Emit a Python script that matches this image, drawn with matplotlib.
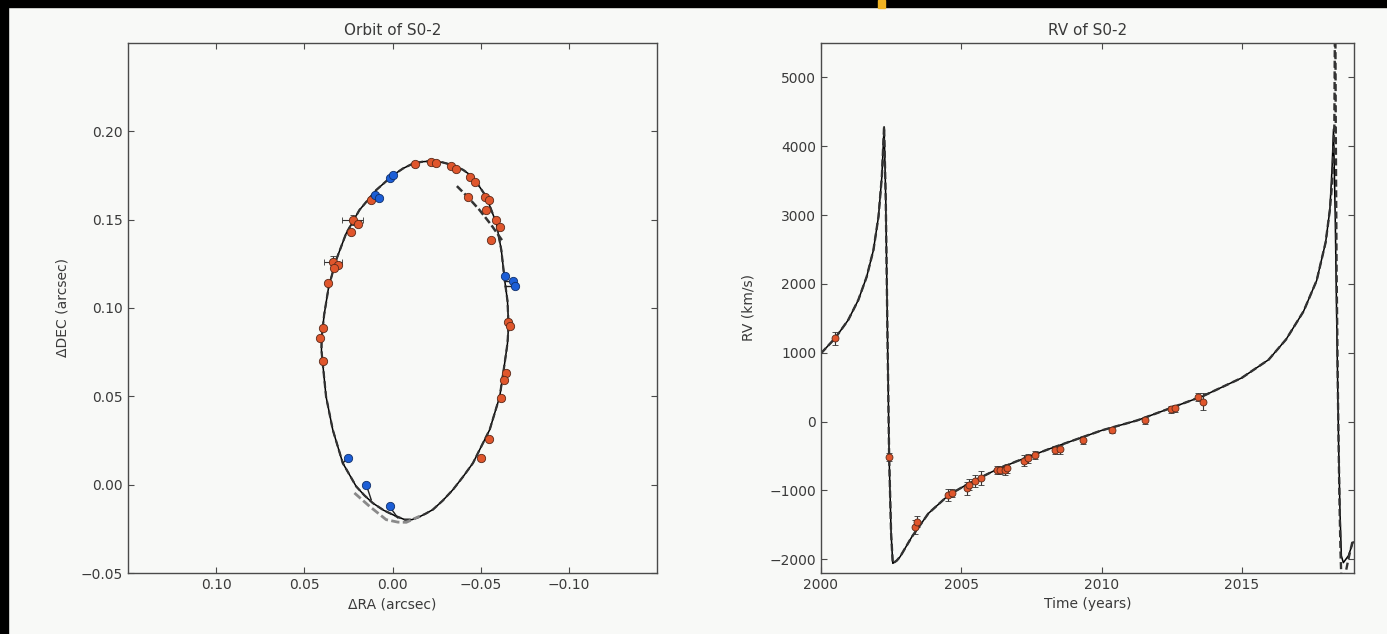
import numpy as np
import matplotlib
matplotlib.use("Agg")
import matplotlib.pyplot as plt
from matplotlib.patches import Rectangle

# ---- orbit panel data (arcsec) ----
orbit_ra = [-0.0229, -0.0170, -0.0115, -0.0060, -0.0002, 0.0093, 0.0188, 0.0263, 0.0320,
            0.0362, 0.0388, 0.0402, 0.0403, 0.0396, 0.0377, 0.0339, 0.0282, 0.0206,
            0.0160, 0.0112, 0.0050, -0.0021, -0.0070, -0.0110, -0.0150, -0.0190,
            -0.0229, -0.0285, -0.0343, -0.0400, -0.0456, -0.0551, -0.0608, -0.0636, -0.0652,
            -0.0658, -0.0652, -0.0636, -0.0617, -0.0589, -0.0532, -0.0456, -0.0400, -0.0343,
            -0.0285, -0.0229]
orbit_dec = [0.1832, 0.1828, 0.1817, 0.1790, 0.1751, 0.1667, 0.1554, 0.1422, 0.1271,
             0.1120, 0.0960, 0.0830, 0.0760, 0.0688, 0.0499, 0.0311, 0.0122, -0.0010,
             -0.0060, -0.0104, -0.0145, -0.0179, -0.0198, -0.0198, -0.0183, -0.0163,
             -0.0141, -0.0090, -0.0028, 0.0045, 0.0122, 0.0311, 0.0499, 0.0688, 0.0800,
             0.0900, 0.1040, 0.1158, 0.1328, 0.1479, 0.1629, 0.1742, 0.1782, 0.1808,
             0.1824, 0.1832]

inner_ra = [-0.0365, -0.0430, -0.0494, -0.0560, -0.0627]
inner_dec = [0.1690, 0.1625, 0.1554, 0.1470, 0.1375]

low_ra = [0.0216, 0.0131, 0.0036, -0.0030, -0.0078, -0.0153]
low_dec = [-0.0047, -0.0122, -0.0198, -0.0212, -0.0213, -0.0179]

astro_ra = [-0.0125, -0.0220, -0.0248, -0.0334, -0.0362, -0.0438, -0.0466, -0.0428,
            -0.0523, -0.0547, -0.0532, -0.0589, -0.0608, -0.0561, 0.0121, 0.0226,
            0.0197, 0.0235, 0.0339, 0.0311, 0.0330, 0.0367, 0.0396, -0.0655,
            -0.0665, 0.0411, 0.0396, -0.0646, -0.0631, -0.0618, -0.0545, -0.0504]
astro_dec = [0.1814, 0.1827, 0.1821, 0.1802, 0.1789, 0.1742, 0.1714, 0.1629,
             0.1629, 0.1610, 0.1554, 0.1497, 0.1456, 0.1384, 0.1610, 0.1497,
             0.1478, 0.1431, 0.1262, 0.1243, 0.1224, 0.1140, 0.0885, 0.0923,
             0.0897, 0.0829, 0.0702, 0.0631, 0.0593, 0.0490, 0.0258, 0.0151]
astro_ra_err = [0.0012, 0.0010, 0.0010, 0.0010, 0.0010, 0.0010, 0.0010, 0.0010,
                0.0010, 0.0010, 0.0010, 0.0010, 0.0010, 0.0010, 0.0012, 0.0060,
                0.0015, 0.0012, 0.0050, 0.0015, 0.0012, 0.0012, 0.0012, 0.0012,
                0.0012, 0.0012, 0.0012, 0.0012, 0.0012, 0.0012, 0.0012, 0.0012]
astro_dec_err = [0.0010, 0.0010, 0.0010, 0.0010, 0.0010, 0.0010, 0.0010, 0.0010,
                 0.0010, 0.0010, 0.0010, 0.0010, 0.0010, 0.0010, 0.0012, 0.0030,
                 0.0015, 0.0012, 0.0035, 0.0015, 0.0012, 0.0012, 0.0015, 0.0012,
                 0.0012, 0.0012, 0.0015, 0.0012, 0.0012, 0.0015, 0.0012, 0.0012]

blue_ra = [0.0017, -0.0002, 0.0102, 0.0074, -0.0636, -0.0684, -0.0693, 0.0254, 0.0149, 0.0017]
blue_dec = [0.1738, 0.1751, 0.1638, 0.1625, 0.1181, 0.1151, 0.1123, 0.0151, 0.0000, -0.0123]
blue_fit_ra = [0.0017, -0.0002, 0.0102, 0.0074, -0.0636, -0.0640, -0.0640, 0.0282, 0.0121, -0.0030]
blue_fit_dec = [0.1738, 0.1751, 0.1638, 0.1625, 0.1181, 0.1151, 0.1123, 0.0122, -0.0085, -0.0188]

# ---- RV panel data ----
rv_t = [2000.0, 2000.5, 2000.97, 2001.33, 2001.63, 2001.87, 2002.05, 2002.17, 2002.25,
        2002.31, 2002.37, 2002.43, 2002.50, 2002.56, 2002.70, 2002.82, 2003.24, 2003.83,
        2004.55, 2005.27, 2006.1, 2006.93, 2008.16, 2010.0, 2011.28, 2012.84, 2013.62,
        2015.0, 2015.96, 2016.58, 2017.2, 2017.67, 2017.99, 2018.14, 2018.22, 2018.27,
        2018.33, 2018.39, 2018.45, 2018.50, 2018.55, 2018.62, 2018.80, 2018.97]
rv_v = [991, 1209, 1475, 1765, 2104, 2492, 2976, 3557, 4283,
        3218, 1281, -511, -1625, -2060, -2020, -1964, -1674, -1334,
        -1068, -898, -729, -584, -394, -129, 18, 253, 371,
        635, 900, 1194, 1600, 2050, 2606, 3076, 3700, 4250,
        3000, 1300, -300, -1300, -1950, -2050, -1950, -1750]

alt_t = [2017.99, 2018.14, 2018.22, 2018.30, 2018.33, 2018.35, 2018.38, 2018.43,
         2018.48, 2018.52, 2018.56, 2018.65, 2018.80, 2018.97]
alt_v = [2606, 3076, 3450, 4300, 6500, 4300, 2200, 300,
         -1100, -1900, -2400, -2300, -2000, -1700]

rv_obs_t = [2000.50, 2002.42, 2003.35, 2003.41, 2004.54, 2004.66, 2005.19, 2005.27,
            2005.49, 2005.72, 2006.26, 2006.38, 2006.56, 2006.62, 2007.22, 2007.39,
            2007.62, 2008.34, 2008.51, 2009.34, 2010.36, 2011.54, 2012.49, 2012.61,
            2013.44, 2013.62]
rv_obs_v = [1209, -511, -1529, -1456, -1068, -1043, -971, -920,
            -860, -825, -705, -705, -705, -680, -570, -535,
            -487, -414, -404, -269, -124, 22, 177, 192,
            360, 288]
rv_obs_err = [90, 60, 100, 80, 90, 60, 100, 80,
              90, 100, 60, 60, 70, 60, 80, 70,
              60, 60, 70, 60, 40, 50, 50, 50,
              60, 120]

bg = "#f8f9f7"
txt = "#3a3a3a"
orange = "#e0562c"
blue = "#1c5ed6"

plt.rcParams["font.family"] = ["DejaVu Sans"]
plt.rcParams["axes.edgecolor"] = "#4a4a4a"
plt.rcParams["xtick.color"] = "#4a4a4a"
plt.rcParams["ytick.color"] = "#4a4a4a"
plt.rcParams["xtick.labelcolor"] = txt
plt.rcParams["ytick.labelcolor"] = txt
plt.rcParams["xtick.direction"] = "in"
plt.rcParams["ytick.direction"] = "in"
plt.rcParams["xtick.top"] = True
plt.rcParams["ytick.right"] = True
plt.rcParams["xtick.major.size"] = 4
plt.rcParams["ytick.major.size"] = 4
plt.rcParams["lines.solid_joinstyle"] = "round"
plt.rcParams["lines.dash_joinstyle"] = "round"

fig = plt.figure(figsize=(13.87, 6.34), dpi=100, facecolor=bg)
ax1 = fig.add_axes([0.0923, 0.0962, 0.3814, 0.836], facecolor=bg)
ax2 = fig.add_axes([0.5919, 0.0962, 0.3843, 0.836], facecolor=bg)

# orbit
ax1.plot(orbit_ra, orbit_dec, color="black", lw=1.1, zorder=2)
ax1.plot(orbit_ra, orbit_dec, color="#333333", lw=1.6, ls=(0, (3, 1.5)), zorder=2)
ax1.plot(inner_ra, inner_dec, color="#333333", lw=1.8, ls=(0, (3, 1.2)), zorder=2)
ax1.plot(low_ra, low_dec, color="#8a8a8a", lw=2.0, ls=(0, (3, 1.2)), zorder=2)
for bx, by, fx, fy in zip(blue_ra, blue_dec, blue_fit_ra, blue_fit_dec):
    ax1.plot([bx, fx], [by, fy], color="#222222", lw=1.0, zorder=3)
ax1.errorbar(astro_ra, astro_dec, xerr=astro_ra_err, yerr=astro_dec_err, fmt="o",
             ms=6, mfc=orange, mec="#5a2a1a", mew=0.6, ecolor="#333333",
             elinewidth=0.8, capsize=2, zorder=4)
ax1.plot(blue_ra, blue_dec, "o", ms=6, mfc=blue, mec="#10306a", mew=0.6, zorder=5)

ax1.set_xlim(0.15, -0.15)
ax1.set_ylim(-0.05, 0.25)
ax1.set_xticks([0.10, 0.05, 0.00, -0.05, -0.10])
ax1.set_yticks([-0.05, 0.00, 0.05, 0.10, 0.15, 0.20])
ax1.set_xticklabels(["0.10", "0.05", "0.00", "\u22120.05", "\u22120.10"])
ax1.set_yticklabels(["\u22120.05", "0.00", "0.05", "0.10", "0.15", "0.20"])
ax1.set_title("Orbit of S0-2", fontsize=11, color=txt)
ax1.set_xlabel("\u0394RA (arcsec)", fontsize=10, color=txt)
ax1.set_ylabel("\u0394DEC (arcsec)", fontsize=10, color=txt, labelpad=8)

# radial velocity
dash_t = [t for t in rv_t if t < 2017.9] + alt_t
dash_v = [v for t, v in zip(rv_t, rv_v) if t < 2017.9] + alt_v
ax2.plot(rv_t, rv_v, color="black", lw=1.1, zorder=2)
ax2.plot(dash_t, dash_v, color="#333333", lw=1.7, ls=(0, (3, 1.5)), zorder=2)
ax2.errorbar(rv_obs_t, rv_obs_v, yerr=rv_obs_err, fmt="o", ms=5, mfc=orange,
             mec="#5a2a1a", mew=0.6, ecolor="#333333", elinewidth=0.8,
             capsize=2, zorder=4)

ax2.set_xlim(2000, 2019)
ax2.set_ylim(-2200, 5500)
ax2.set_xticks([2000, 2005, 2010, 2015])
ax2.set_yticks([-2000, -1000, 0, 1000, 2000, 3000, 4000, 5000])
ax2.set_yticklabels(["\u22122000", "\u22121000", "0", "1000", "2000", "3000", "4000", "5000"])
ax2.set_title("RV of S0-2", fontsize=11, color=txt)
ax2.set_xlabel("Time (years)", fontsize=10, color=txt)
ax2.set_ylabel("RV (km/s)", fontsize=10, color=txt, labelpad=10)

for ax in (ax1, ax2):
    ax.tick_params(labelsize=10)
    for s in ax.spines.values():
        s.set_linewidth(1.0)

# screen-capture frame
fig.add_artist(Rectangle((0, 1 - 7 / 634), 1, 7 / 634, transform=fig.transFigure,
                         color="black", zorder=10))
fig.add_artist(Rectangle((0, 0), 8 / 1387, 1, transform=fig.transFigure,
                         color="black", zorder=10))
fig.add_artist(Rectangle((878 / 1387, 1 - 8 / 634), 7 / 1387, 8 / 634,
                         transform=fig.transFigure, color="#f0b323", zorder=11))

fig.savefig("out.png", dpi=100, facecolor=bg)
